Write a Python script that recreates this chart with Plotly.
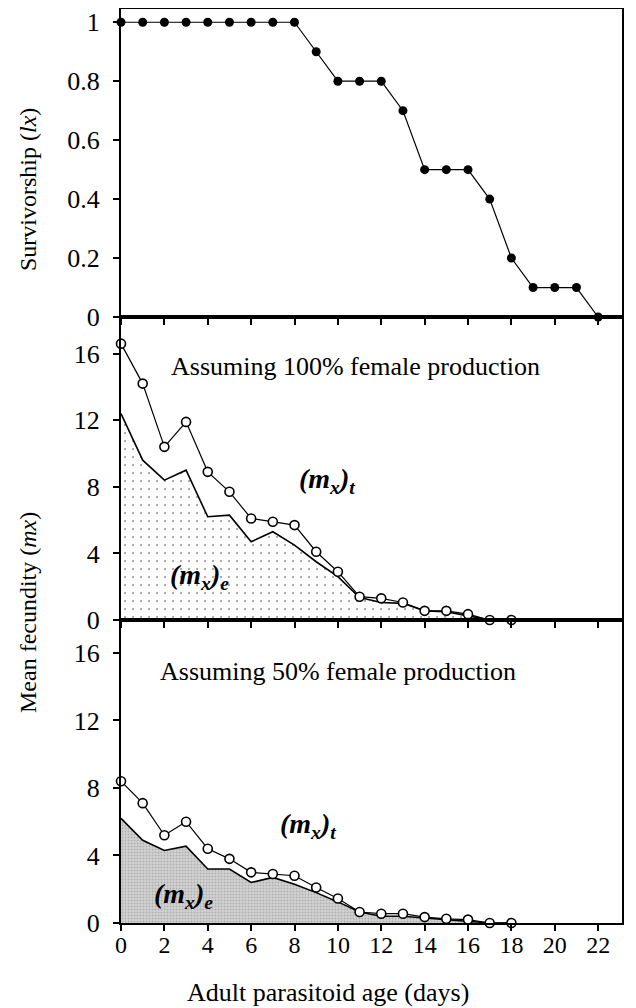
import plotly.graph_objects as go
from plotly.subplots import make_subplots

# ---- data ----
days_lx = list(range(0, 23))
lx = [1, 1, 1, 1, 1, 1, 1, 1, 1, 0.9, 0.8, 0.8, 0.8, 0.7, 0.5, 0.5, 0.5, 0.4, 0.2, 0.1, 0.1, 0.1, 0.0]

days_mx = list(range(0, 19))
mx_t_100 = [16.6, 14.2, 10.4, 11.9, 8.9, 7.7, 6.1, 5.9, 5.7, 4.1, 2.9, 1.4, 1.3, 1.05, 0.55, 0.55, 0.35, 0.0, 0.0]
mx_e_100 = [12.4, 9.6, 8.4, 9.0, 6.2, 6.3, 4.7, 5.3, 4.5, 3.5, 2.6, 1.35, 1.05, 1.0, 0.55, 0.5, 0.25, 0.0, 0.0]
mx_t_50 = [8.4, 7.1, 5.2, 6.0, 4.4, 3.8, 3.0, 2.9, 2.8, 2.1, 1.45, 0.65, 0.55, 0.55, 0.35, 0.25, 0.2, 0.0, 0.0]
mx_e_50 = [6.2, 4.9, 4.3, 4.55, 3.2, 3.2, 2.4, 2.7, 2.3, 1.8, 1.25, 0.65, 0.4, 0.4, 0.3, 0.2, 0.1, 0.0, 0.0]

x_ticks = list(range(0, 23, 2))
lx_ticks = [0, 0.2, 0.4, 0.6, 0.8, 1]
lx_labels = ["0", "0.2", "0.4", "0.6", "0.8", "1"]
mx_ticks = [0, 4, 8, 12, 16]

FONT = "Liberation Serif"

fig = make_subplots(rows=3, cols=1, shared_xaxes=True, vertical_spacing=0,
                    row_heights=[308, 303, 303])

# top panel: survivorship
fig.add_trace(go.Scatter(x=days_lx, y=lx, mode="lines+markers",
                         line=dict(color="black", width=1.2),
                         marker=dict(symbol="circle", size=9, color="black"),
                         cliponaxis=False, showlegend=False), row=1, col=1)

# middle panel: 100% female
fig.add_trace(go.Scatter(x=days_mx, y=mx_e_100, mode="lines", fill="tozeroy",
                         line=dict(color="black", width=1.6),
                         fillcolor="white",
                         fillpattern=dict(shape=".", fgcolor="#222222", bgcolor="white",
                                          size=8, solidity=0.05),
                         cliponaxis=False, showlegend=False), row=2, col=1)
fig.add_trace(go.Scatter(x=days_mx, y=mx_t_100, mode="lines+markers",
                         line=dict(color="black", width=1.2),
                         marker=dict(symbol="circle", size=9, color="white",
                                     line=dict(color="black", width=1.6)),
                         cliponaxis=False, showlegend=False), row=2, col=1)

# bottom panel: 50% female
fig.add_trace(go.Scatter(x=days_mx, y=mx_e_50, mode="lines", fill="tozeroy",
                         line=dict(color="black", width=1.6),
                         fillcolor="#c8c8c8",
                         fillpattern=dict(shape=".", fgcolor="#8a8a8a", bgcolor="#d2d2d2",
                                          size=3, solidity=0.3),
                         cliponaxis=False, showlegend=False), row=3, col=1)
fig.add_trace(go.Scatter(x=days_mx, y=mx_t_50, mode="lines+markers",
                         line=dict(color="black", width=1.2),
                         marker=dict(symbol="circle", size=9, color="white",
                                     line=dict(color="black", width=1.6)),
                         cliponaxis=False, showlegend=False), row=3, col=1)

axis_common = dict(showline=True, linecolor="black", linewidth=2, mirror=True,
                   showgrid=False, zeroline=False, ticks="outside",
                   tickcolor="black", ticklen=6, tickwidth=1.5, automargin=False)

for r in (1, 2, 3):
    fig.update_xaxes(range=[0, 23.1], tickvals=x_ticks, showticklabels=(r == 3),
                     tickfont=dict(family=FONT, size=24, color="black"),
                     ticklabelstandoff=-7,
                     **axis_common, row=r, col=1)

yfont = dict(family=FONT, size=26, color="black")
fig.update_yaxes(range=[0, 1.045], tickvals=lx_ticks, ticktext=lx_labels, tickfont=yfont,
                 ticklabelstandoff=8, **axis_common, row=1, col=1)
fig.update_yaxes(range=[0, 18.2], tickvals=mx_ticks, tickfont=yfont,
                 ticklabelstandoff=8, **axis_common, row=2, col=1)
fig.update_yaxes(range=[0, 17.95], tickvals=mx_ticks, tickfont=yfont,
                 ticklabelstandoff=8, **axis_common, row=3, col=1)

ann_font = dict(family=FONT, size=26, color="black")
lab_font = dict(family=FONT, size=28, color="black")
mxt = "<b><i>(m<sub>x</sub>)<sub>t</sub></i></b>"
mxe = "<b><i>(m<sub>x</sub>)<sub>e</sub></i></b>"
annotations = [
    dict(x=10.8, y=15.2, xref="x2", yref="y2", text="Assuming 100% female production", font=ann_font),
    dict(x=10.0, y=14.9, xref="x3", yref="y3", text="Assuming 50% female production", font=ann_font),
    dict(x=9.5, y=8.4, xref="x2", yref="y2", text=mxt, font=lab_font),
    dict(x=3.6, y=2.6, xref="x2", yref="y2", text=mxe, font=lab_font),
    dict(x=8.6, y=5.8, xref="x3", yref="y3", text=mxt, font=lab_font),
    dict(x=2.9, y=1.65, xref="x3", yref="y3", text=mxe, font=lab_font),
]

# The page body keeps an 8px margin, so the figure is 8px smaller than the window
OFF = 8
W, H = 636 - OFF, 1008 - OFF
L, R, T, B = 121 - OFF, 14, 9 - OFF, 85
pw, ph = W - L - R, H - T - B
# axis titles positioned by window pixel centre
titles = [
    (28, 190, "Survivorship (<i>lx</i>)", -90, 24),
    (28, 613, "Mean fecundity (<i>mx</i>)", -90, 24),
    (328, 992, "Adult parasitoid age (days)", 0, 26),
]
for px, py, txt, ang, fs in titles:
    fx, fy = px - OFF, py - OFF
    annotations.append(dict(x=(fx - L) / pw, y=(H - B - fy) / ph, xref="paper", yref="paper",
                            text=txt, textangle=ang, font=dict(family=FONT, size=fs, color="black")))
for a in annotations:
    a.update(showarrow=False, xanchor="center", yanchor="middle")

fig.update_layout(width=W, height=H, margin=dict(l=L, r=R, t=T, b=B, autoexpand=False),
                  plot_bgcolor="white", paper_bgcolor="white",
                  font=dict(family=FONT, color="black"),
                  annotations=annotations)

fig.write_html("out.html")
